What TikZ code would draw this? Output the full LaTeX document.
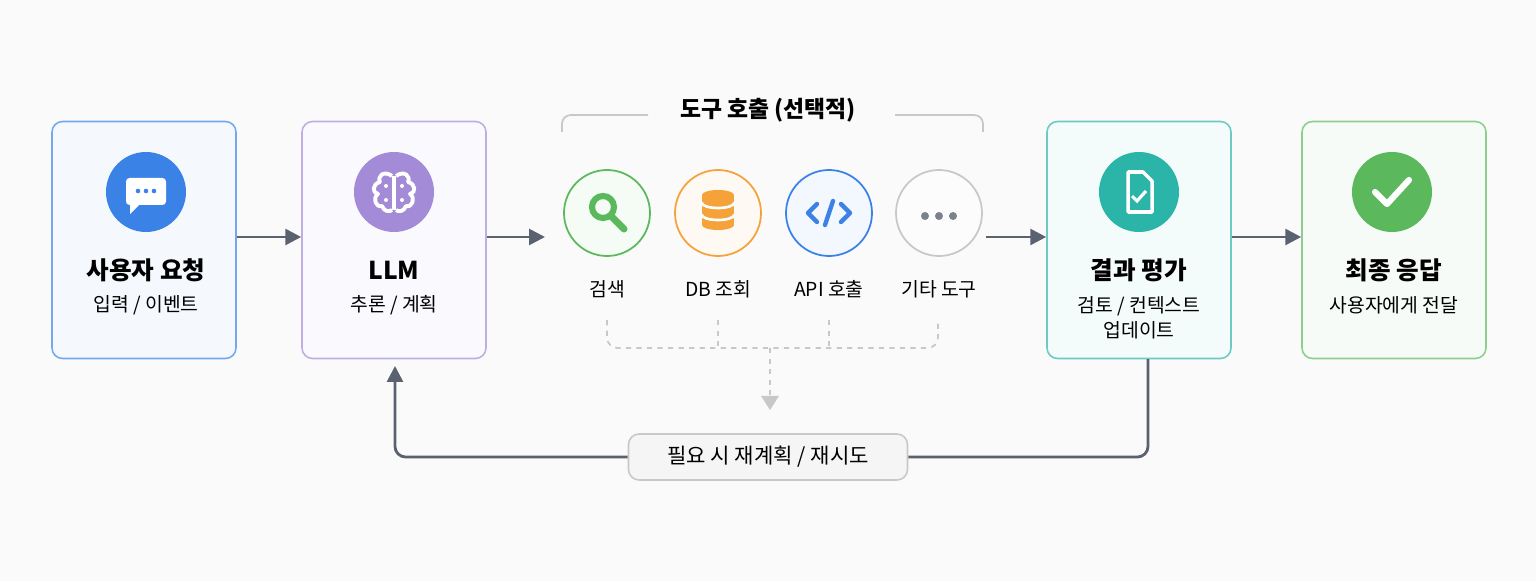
\documentclass[tikz,border=0pt]{standalone}
\usepackage{fontspec}
\setmainfont{Noto Sans CJK KR}
\usetikzlibrary{positioning,arrows.meta}
\definecolor{bgc}{HTML}{FAFAFA}
\definecolor{arrc}{HTML}{5A6270}
\definecolor{blu}{HTML}{3B82E6}
\definecolor{pur}{HTML}{A48BD8}
\definecolor{tea}{HTML}{2BB5A8}
\definecolor{grn}{HTML}{5CB85C}
\definecolor{org}{HTML}{F5A23A}
\definecolor{gry}{HTML}{C8C8C8}
\begin{document}
\begin{tikzpicture}[x=0.02cm,y=-0.02cm,
    stage/.style={draw=#1!70, fill=#1!5, rounded corners=6pt, line width=0.9pt,
      minimum width=184*0.02cm, minimum height=237*0.02cm},
    badge/.style={circle, fill=#1, minimum size=80*0.02cm},
    tool/.style={circle, draw=#1, fill=#1!6, line width=1pt, minimum size=86*0.02cm},
    title/.style={font=\fontsize{14}{16}\selectfont\bfseries},
    sub/.style={font=\fontsize{11}{14}\selectfont, align=center},
    flow/.style={-{Triangle[length=9pt,width=9pt]}, draw=arrc, line width=1.6pt},
    merge/.style={draw=gry, dashed, line width=1pt, rounded corners=6pt}]
  \fill[bgc] (0,0) rectangle (1536,581);
  \useasboundingbox (0,0) rectangle (1536,581);

  % stages
  \node[stage=blu] (req) at (144,240) {};
  \node[stage=pur] (llm) at (394,240) {};
  \node[stage=tea] (eval) at (1139,240) {};
  \node[stage=grn] (resp) at (1394,240) {};

  \node[badge=blu] (reqI) at (146,192) {};
  \node[badge=pur] (llmI) at (394,192) {};
  \node[badge=tea] (evalI) at (1139,192) {};
  \node[badge=grn] (respI) at (1392,192) {};

  \node[title] (reqT) at (146,270) {사용자 요청};
  \node[sub] (reqS) at (146,305) {입력 / 이벤트};
  \node[title] (llmT) at (394,270) {LLM};
  \node[sub] (llmS) at (394,305) {추론 / 계획};
  \node[title] (evalT) at (1139,270) {결과 평가};
  \node[sub] (evalS) at (1139,318) {검토 / 컨텍스트\\업데이트};
  \node[title] (respT) at (1394,270) {최종 응답};
  \node[sub] (respS) at (1394,305) {사용자에게 전달};

  % icon glyphs
  \fill[white, rounded corners=2pt] (126,178) rectangle (166,205);
  \fill[white] (130,204) -- (130,214) -- (140,204) -- cycle;
  \foreach \i in {-8,0,8} \fill[blu] (146+\i,191) circle (2.3);
  \draw[white, line width=2.2pt] (394,176) -- (394,210);
  \draw[white, line width=2.2pt, line join=round]
    (392,176) .. controls (384,170) and (377,176) .. (380,182)
      .. controls (372,184) and (372,193) .. (378,194)
      .. controls (372,198) and (376,208) .. (382,206)
      .. controls (384,212) and (390,212) .. (392,210)
    (396,176) .. controls (404,170) and (411,176) .. (408,182)
      .. controls (416,184) and (416,193) .. (410,194)
      .. controls (416,198) and (412,208) .. (406,206)
      .. controls (404,212) and (398,212) .. (396,210);
  \foreach \p in {(386,186),(402,186),(386,200),(402,200)} \fill[white] \p circle (2);
  \draw[white, line width=2pt, line join=round] (1128,172) -- (1143,172) -- (1152,181) -- (1152,212) -- (1128,212) -- cycle;
  \draw[white, line width=1.8pt] (1132,196) -- (1137,201) -- (1146,191);
  \draw[white, line width=3.5pt, line cap=round, line join=round] (1375,192) -- (1387,204) -- (1409,180);

  % tools
  \node[tool=grn] (srch) at (607,213) {};
  \node[tool=org] (db) at (718,213) {};
  \node[tool=blu] (api) at (829,213) {};
  \node[tool=gry] (etc) at (939,213) {};
  \draw[grn, line width=3.5pt] (603,207) circle (11);
  \draw[grn, line width=4pt, line cap=round] (611,216) -- (624,229);
  \foreach \yy in {225,213} {
    \fill[org] (702,\yy) rectangle (734,\yy-10);
    \fill[org] (718,\yy) ellipse (16 and 5);
  }
  \fill[org] (702,201) rectangle (734,195);
  \fill[org] (718,201) ellipse (16 and 5);
  \fill[org] (718,195) ellipse (16 and 5);
  \draw[white, line width=1.5pt] (702,203) arc[start angle=180, end angle=360, x radius=16, y radius=-5];
  \draw[white, line width=1.5pt] (702,215) arc[start angle=180, end angle=360, x radius=16, y radius=-5];
  \draw[blu, line width=2.5pt, line cap=round, line join=round]
    (817,204) -- (808,213) -- (817,222) (841,204) -- (850,213) -- (841,222) (833,201) -- (825,225);
  \foreach \i in {-14,0,14} \fill[arrc!80] (939+\i,216) circle (4);

  \node[sub] (srchL) at (607,289) {검색};
  \node[sub] (dbL) at (718,289) {DB 조회};
  \node[sub] (apiL) at (829,289) {API 호출};
  \node[sub] (etcL) at (939,289) {기타 도구};

  % group bracket
  \node[title, font=\fontsize{13}{15}\selectfont\bfseries] (grpT) at (768,110) {도구 호출 (선택적)};
  \draw[gry, line width=1pt, rounded corners=5pt] (648,115) -- (562,115) -- (562,132);
  \draw[gry, line width=1pt, rounded corners=5pt] (895,115) -- (983,115) -- (983,132);

  % merge lines
  \coordinate (mrg) at (770,348);
  \draw[merge] (607,320) -- (607,348) -- (938,348) -- (938,320);
  \draw[merge] (718,320) -- (718,348);
  \draw[merge] (829,320) -- (829,348);
  \draw[merge, -{Triangle[length=8pt,width=10pt]}] (mrg) -- (770,410);

  % main flow
  \draw[flow] (req.east |- 0,237) -- (llm.west |- 0,237);
  \draw[flow] (llm.east |- 0,237) -- (545,237);
  \draw[flow] (986,237) -- (eval.west |- 0,237);
  \draw[flow] (eval.east |- 0,237) -- (resp.west |- 0,237);

  % feedback
  \node[draw=gry, fill=black!4, rounded corners=6pt, line width=0.9pt,
    minimum width=279*0.02cm, minimum height=46*0.02cm,
    font=\fontsize{12}{14}\selectfont] (retry) at (768,457) {필요 시 재계획 / 재시도};
  \draw[arrc, line width=1.6pt, rounded corners=6pt] (1148,359) -- (1148,457) -- (retry.east);
  \draw[flow, rounded corners=6pt] (retry.west) -- (395,457) -- (395,366);
\end{tikzpicture}
\end{document}
